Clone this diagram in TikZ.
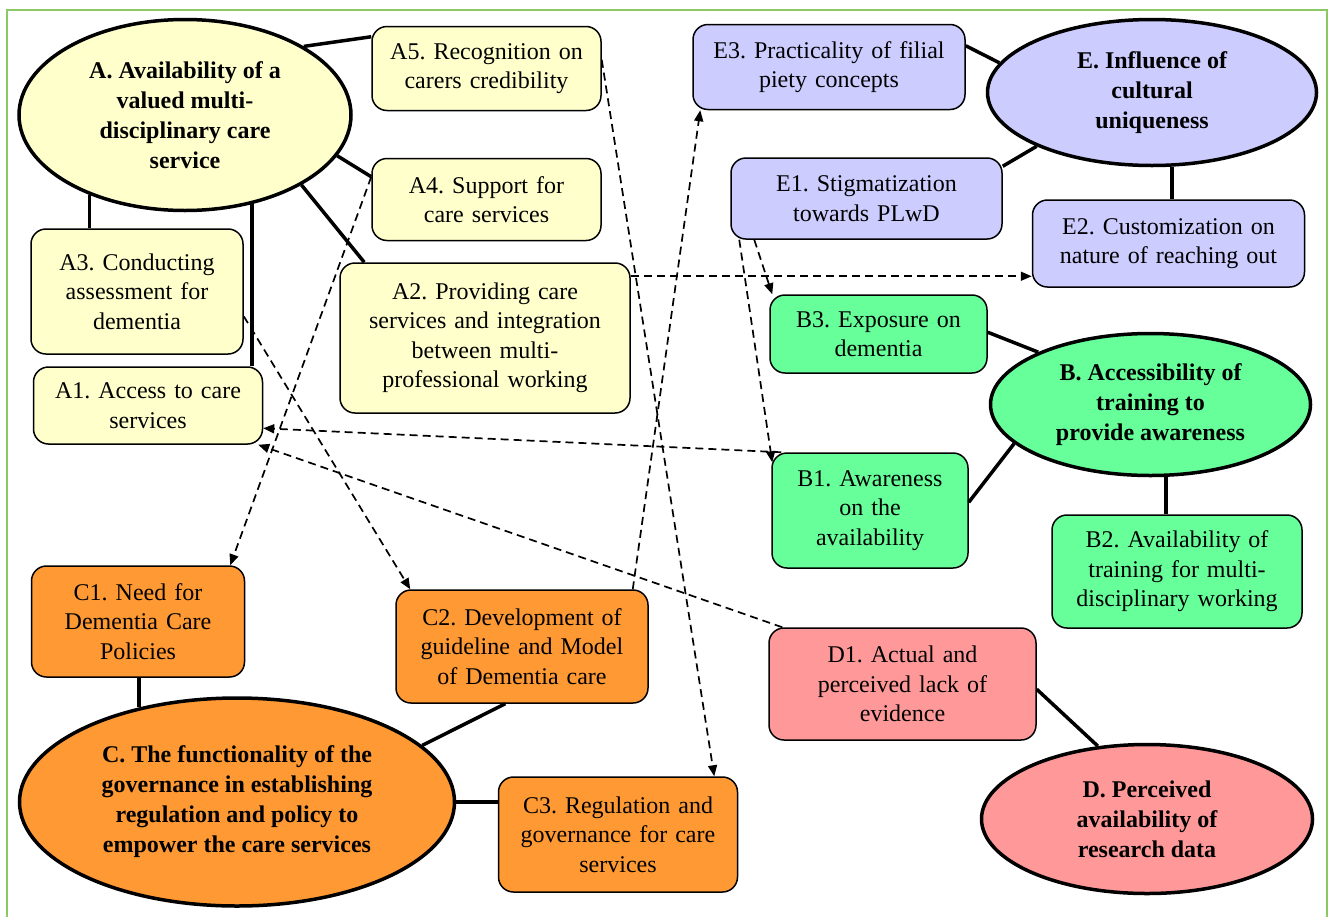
\documentclass[tikz,border=0pt]{standalone}
\usepackage{fontspec}
\setmainfont{Liberation Serif}
\usetikzlibrary{shapes.geometric,arrows.meta,calc}
\definecolor{cy}{HTML}{FFFFCC}
\definecolor{cb}{HTML}{CCCCFF}
\definecolor{cg}{HTML}{66FF99}
\definecolor{cp}{HTML}{FF9999}
\definecolor{co}{HTML}{FF9933}
\definecolor{bord}{HTML}{8CC866}
\frenchspacing
\begin{document}
\begin{tikzpicture}[x=1pt,y=-1pt,
  bx/.style 2 args={draw,line width=1.5pt,rounded corners=15pt,inner sep=0pt,
    minimum width=#1,text width=#1,minimum height=#2,align=center,
    font=\fontsize{24}{29.5}\selectfont},
  ell/.style={draw,ellipse,line width=3.5pt,inner sep=0pt,align=center,
    font=\fontsize{24}{30}\selectfont\bfseries},
  conn/.style={line width=3.5pt},
  darr/.style={line width=1.7pt,dash pattern=on 8pt off 5pt,
    -{Triangle[length=11pt,width=9pt]}}]
\useasboundingbox[fill=white] (0,0) rectangle (1330,916);
\draw[bord,line width=2pt] (7,925) -- (7,10) -- (1327,10) -- (1327,925);

% boxes
\node[bx={229pt}{84pt},fill=cy] (A5) at (486.5,68.5) {A5. Recognition on\\carers credibility};
\node[bx={229pt}{82pt},fill=cy] (A4) at (486.5,199.5) {A4. Support for\\care services};
\node[bx={212pt}{125pt},fill=cy] (A3) at (137,291.5) {A3. Conducting\\assessment for\\dementia};
\node[bx={290pt}{150pt},fill=cy] (A2) at (485,338) {A2. Providing care\\services and integration\\between multi-\\professional working};
\node[bx={229pt}{77pt},fill=cy] (A1) at (148,405.5) {A1. Access to care\\services};
\node[bx={272pt}{85pt},fill=cb] (E3) at (829,67) {E3. Practicality of filial\\piety concepts};
\node[bx={271pt}{81pt},fill=cb] (E1) at (866.5,198.5) {E1. Stigmatization\\towards PLwD};
\node[bx={272pt}{87pt},fill=cb] (E2) at (1168.5,243.5) {E2. Customization on\\nature of reaching out};
\node[bx={217pt}{78pt},fill=cg] (B3) at (878.5,334) {B3. Exposure on\\dementia};
\node[bx={196pt}{115pt},fill=cg] (B1) at (870,510.5) {B1. Awareness\\on the\\availability};
\node[bx={250pt}{113pt},fill=cg] (B2) at (1177,571.5) {B2. Availability of\\training for multi-\\disciplinary working};
\node[bx={267pt}{112pt},fill=cp] (D1) at (902.5,684) {D1. Actual and\\perceived lack of\\evidence};
\node[bx={213pt}{111pt},fill=co] (C1) at (138,621.5) {C1. Need for\\Dementia Care\\Policies};
\node[bx={252pt}{113pt},fill=co] (C2) at (522,646.5) {C2. Development of\\guideline and Model\\of Dementia care};
\node[bx={239pt}{115pt},fill=co] (C3) at (618,834.5) {C3. Regulation and\\governance for care\\services};

% ellipses
\node[ell,minimum width=332pt,minimum height=191pt,fill=cy] (A) at (185,115) {A. Availability of a\\valued multi-\\disciplinary care\\service};
\node[ell,minimum width=329pt,minimum height=146pt,fill=cb] (E) at (1152,92.5) {E. Influence of\\cultural\\uniqueness};
\node[ell,minimum width=320pt,minimum height=142pt,fill=cg] (B) at (1150.5,404.5) {B. Accessibility of\\training to\\provide awareness};
\node[ell,minimum width=331pt,minimum height=149pt,fill=cp] (D) at (1147,819) {D. Perceived\\availability of\\research data};
\node[ell,minimum width=435pt,minimum height=208pt,fill=co] (C) at (237,802) {C. The functionality of the\\governance in establishing\\regulation and policy to\\empower the care services};

% solid connectors
\draw[conn] (A.30) -- ($(A5.north west)+(0,11)$);
\draw[conn] (A.-15) -- ($(A4.north west)+(0,19)$);
\draw[conn] (A.-31) -- ($(A2.north west)+(25,0)$);
\draw[conn] (A.-140) -- (A.-140 |- A3.north);
\draw[conn] (A.-53) -- (A.-53 |- A1.north);
\draw[conn] (E.169) -- ($(E3.north east)+(0,22)$);
\draw[conn] (E.-155) -- ($(E1.north east)+(0,9)$);
\draw[conn] (E.-75) -- (E.-75 |- E2.north);
\draw[conn] (B.155) -- ($(B3.north east)+(0,38)$);
\draw[conn] (B.-164) -- ($(B1.north east)+(0,50)$);
\draw[conn] (B.-78) -- (B.-78 |- B2.north);
\draw[conn] (D.124) -- ($(D1.north east)+(0,62)$);
\draw[conn] (C.136) -- (C.136 |- C1.south);
\draw[conn] (C.17) -- ($(C2.south west)+(110,0)$);
\draw[conn] (C.east) -- (C.east -| C3.west);

% dashed arrows
\coordinate (a2e) at ($(A2.north east)+(0,14)$);
\draw[darr] ($(A4.north west)+(0,19)$) -- ($(C1.north east)+(-15,0)$);
\draw[darr] ($(A3.north east)+(0,88)$) -- ($(C2.north west)+(15,0)$);
\draw[darr] ($(A5.north east)+(0,34)$) -- ($(C3.north east)+(-24,0)$);
\draw[darr] (a2e) -- (a2e -| E2.west);
\draw[darr] ($(C2.north east)+(-16,0)$) -- ($(E3.south west)+(8,0)$);
\draw[darr] ($(E1.south west)+(24,0)$) -- ($(B3.north west)+(3,0)$);
\draw[darr] ($(E1.south west)+(9,0)$) -- ($(B1.north west)+(1,10)$);
\draw[darr] ($(B1.north west)+(10,0)$) -- ($(A1.north east)+(0,62)$);
\draw[darr] ($(D1.north west)+(14,0)$) -- ($(A1.south east)+(-5,0)$);
\end{tikzpicture}
\end{document}
